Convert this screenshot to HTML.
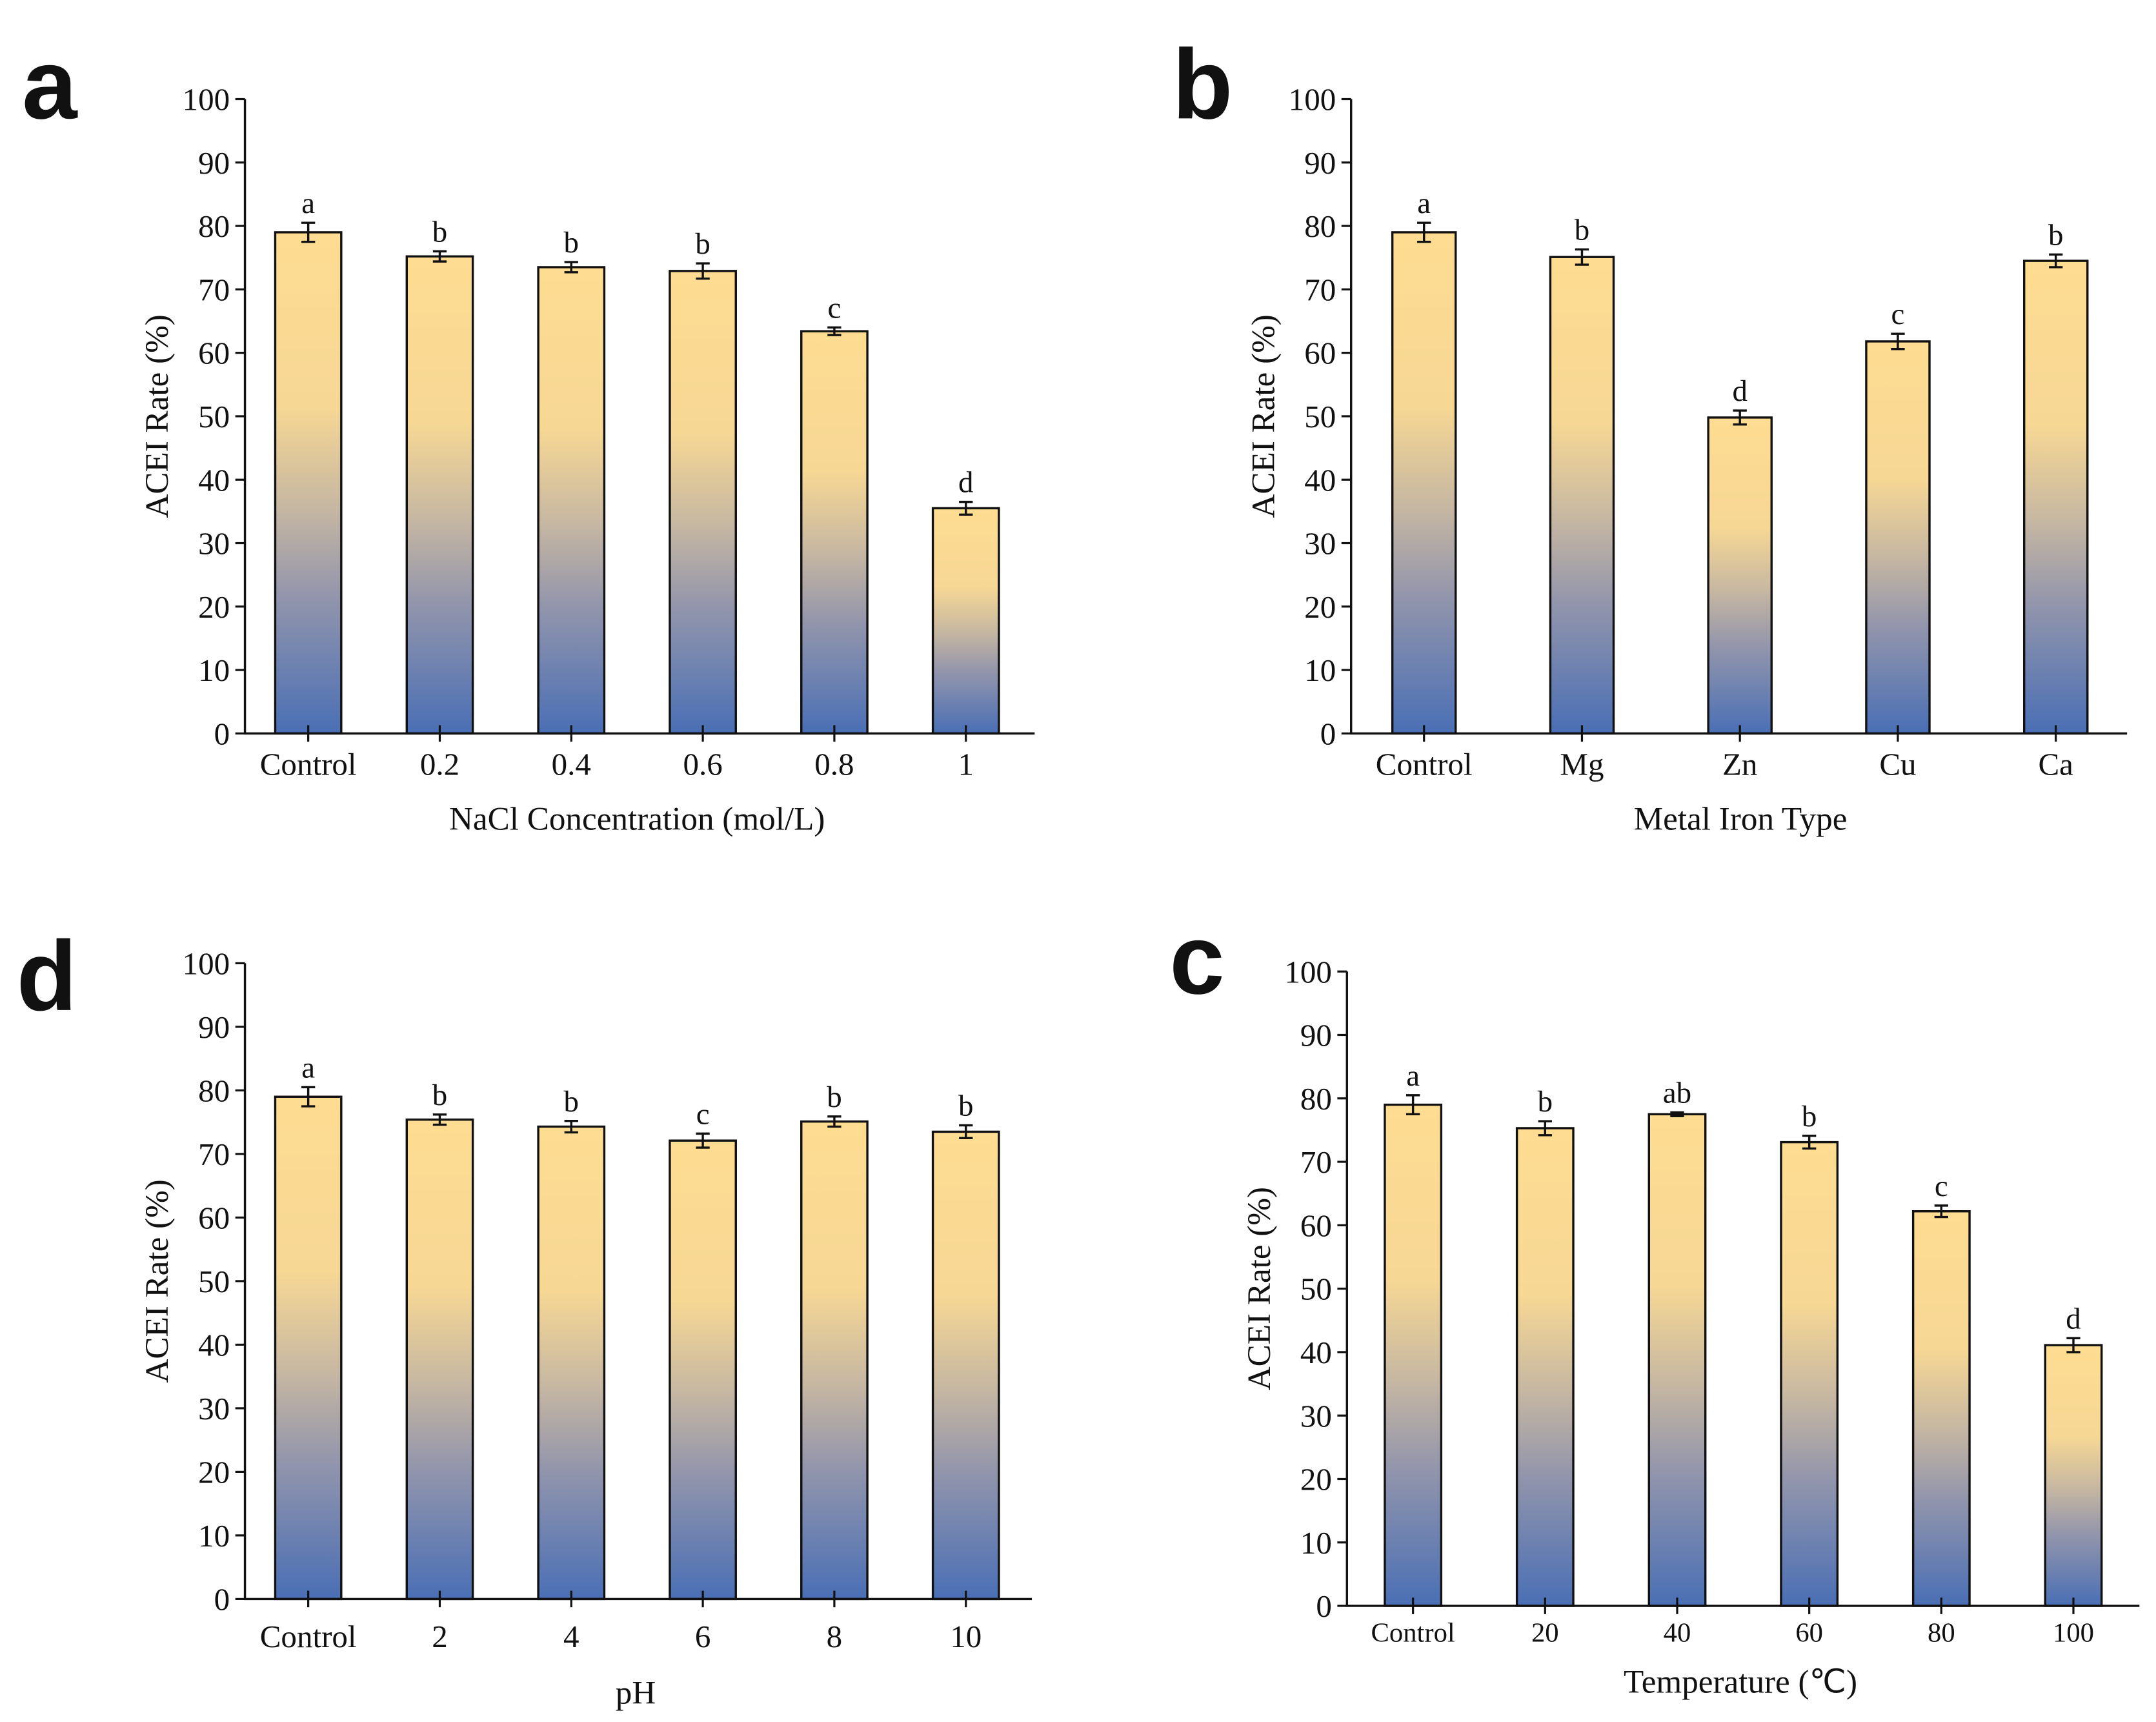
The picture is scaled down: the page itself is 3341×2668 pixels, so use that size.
<!DOCTYPE html>
<html><head><meta charset="utf-8"><style>
html,body{margin:0;padding:0;background:#fff;}
svg{display:block;}
text{font-family:"Liberation Serif",serif;fill:#111;}
.pl{font-family:"Liberation Sans",sans-serif;font-weight:bold;}
</style></head><body>
<svg id="fig" width="3341" height="2668" viewBox="0 0 1567 1251.4" xmlns="http://www.w3.org/2000/svg">
<defs>
<linearGradient id="bg" x1="0" y1="0" x2="0" y2="1">
<stop offset="0" stop-color="#fedd92"/>
<stop offset="0.35" stop-color="#f6d794"/>
<stop offset="0.55" stop-color="#c6b7a2"/>
<stop offset="0.72" stop-color="#9496ab"/>
<stop offset="1" stop-color="#4a6fb5"/>
</linearGradient>
</defs>
</svg>
<script>
const catsA=["Control","0.2","0.4","0.6","0.8","1"];
const valsA=[79,75.2,73.5,72.9,63.4,35.5];
const errsA=[1.5,0.8,0.8,1.2,0.6,1.0];
const lettersA=["a","b","b","b","c","d"];
const catsB=["Control","Mg","Zn","Cu","Ca"];
const valsB=[79,75.1,49.8,61.8,74.5];
const errsB=[1.5,1.2,1.1,1.2,1.0];
const lettersB=["a","b","d","c","b"];
const catsD=["Control","2","4","6","8","10"];
const valsD=[79,75.4,74.3,72.1,75.1,73.5];
const errsD=[1.5,0.8,0.9,1.1,0.8,1.0];
const lettersD=["a","b","b","c","b","b"];
const catsC=["Control","20","40","60","80","100"];
const valsC=[79,75.3,77.5,73.1,62.2,41.1];
const errsC=[1.5,1.1,0.3,1.0,0.9,1.1];
const lettersC=["a","b","ab","b","c","d"];
const yTicks=[0,10,20,30,40,50,60,70,80,90,100];

const svg=document.getElementById('fig');
const NS="http://www.w3.org/2000/svg";
function mk(tag,attrs,parent){const e=document.createElementNS(NS,tag);for(const k in attrs)e.setAttribute(k,attrs[k]);(parent||svg).appendChild(e);return e;}

function panel(p){
  const g=mk('g',{});
  
  
  const y=v=>p.y0-(v/100)*(p.y0-p.y100);
  const x=i=>p.x0+p.step*i;
  const L=mk('text',{x:p.lx,y:p.ly,'font-size':72,class:'pl'},g);L.textContent=p.id;
  
  
  p.vals.forEach((v,i)=>{
    const r=mk('rect',{x:x(i)-p.bw/2,y:y(v),width:p.bw,height:p.y0-y(v),fill:'url(#bg)',stroke:'#111','stroke-width':1.6},g);
    
    
    const e=p.errs[i];
    const eb=mk('path',{d:`M${x(i)},${y(v+e)}V${y(v-e)}M${x(i)-5},${y(v+e)}H${x(i)+5}M${x(i)-5},${y(v-e)}H${x(i)+5}`,stroke:'#111','stroke-width':1.6,fill:'none'},g);
    
    
    const t=mk('text',{x:x(i),y:y(v+e)-7,'font-size':22,'text-anchor':'middle'},g);t.textContent=p.letters[i];
    
    
    const tk=mk('line',{x1:x(i),x2:x(i),y1:p.y0-6,y2:p.y0+6,stroke:'#111','stroke-width':1.5},g);
    
    
    const tl=mk('text',{x:x(i),y:p.tly,'font-size':p.tfs,'text-anchor':'middle'},g);tl.textContent=p.cats[i];
    
    
  });
  const ax=mk('path',{d:`M${p.ax},${p.y100}V${p.y0}H${p.xe}`,stroke:'#111','stroke-width':1.6,fill:'none'},g);
  
  
  yTicks.forEach(v=>{
    const t=mk('line',{x1:p.ax-7,x2:p.ax,y1:y(v),y2:y(v),stroke:'#111','stroke-width':1.5},g);
    
    
    const l=mk('text',{x:p.ax-11,y:y(v)+8,'font-size':23,'text-anchor':'end'},g);l.textContent=v;
    
    
  });
  const yt=mk('text',{x:0,y:0,'font-size':24,'text-anchor':'middle',transform:`translate(${p.ax-56},${(p.y0+p.y100)/2}) rotate(-90)`},g);
  yt.textContent='ACEI Rate (%)';
  
  
  const xt=mk('text',{x:p.xtx,y:p.xty,'font-size':24,'text-anchor':'middle'},g);xt.textContent=p.xtitle;
  
  
}
panel({id:'a',cats:catsA,vals:valsA,errs:errsA,letters:lettersA,ax:178,y100:72,y0:533,xe:752,x0:224,step:95.6,bw:48,tly:563,tfs:23,xtitle:'NaCl Concentration (mol/L)',xtx:463,xty:603,lx:16,ly:86});
panel({id:'b',cats:catsB,vals:valsB,errs:errsB,letters:lettersB,ax:982,y100:72,y0:533,xe:1546,x0:1035,step:114.8,bw:46,tly:563,tfs:23,xtitle:'Metal Iron Type',xtx:1265,xty:603,lx:852,ly:86});
panel({id:'d',cats:catsD,vals:valsD,errs:errsD,letters:lettersD,ax:178,y100:700,y0:1162,xe:750,x0:224,step:95.6,bw:48,tly:1197,tfs:23,xtitle:'pH',xtx:462,xty:1238,lx:12,ly:734});
panel({id:'c',cats:catsC,vals:valsC,errs:errsC,letters:lettersC,ax:979,y100:706,y0:1167,xe:1555,x0:1027,step:96,bw:41,tly:1193,tfs:20,xtitle:'Temperature (\u2103)',xtx:1265,xty:1230,lx:850,ly:722});
</script>
</body></html>
